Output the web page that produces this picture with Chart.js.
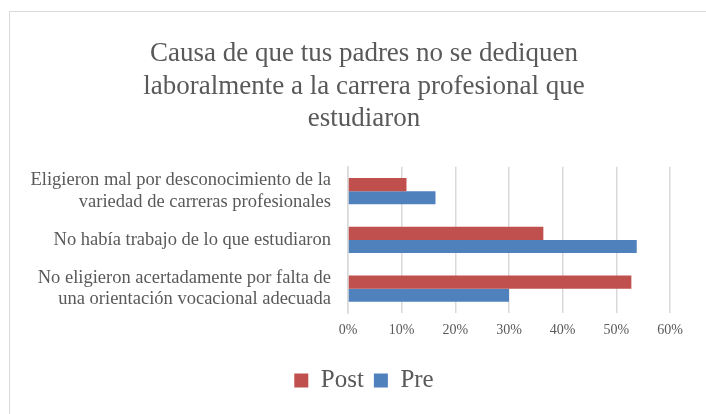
<!DOCTYPE html>
<html>
<head>
<meta charset="utf-8">
<script src="https://cdn.jsdelivr.net/npm/chart.js@4.4.0/dist/chart.umd.min.js"></script>
<style>
	html, body { margin: 0; padding: 0; background: #fff; overflow: hidden; }
	#frame { position: absolute; left: 9px; top: 11px; width: 697px; height: 403px;
		border-left: 1.5px solid #d9d9d9; border-top: 1.5px solid #d9d9d9; }
	#wrap { position: absolute; left: 0; top: 0; width: 718px; height: 414px; }
</style>
</head>
<body>
<div id="frame"></div>
<div id="wrap"><canvas id="bar_chart" width="718" height="414"></canvas></div>
<script>
(() => {
	const categories = [
		['Eligieron mal por desconocimiento de la', 'variedad de carreras profesionales'],
		['No había trabajo de lo que estudiaron'],
		['No eligieron acertadamente por falta de', 'una orientación vocacional adecuada']
	];
	const postValues = [10.9, 36.4, 52.8];
	const preValues = [16.3, 53.8, 30.0];
	const tickValues = [0, 10, 20, 30, 40, 50, 60];

	const TEXT = '#595959';
	const SERIF = "'Liberation Serif', 'Times New Roman', serif";

	const data = {
		labels: categories,
		datasets: [
			{ label: 'Post', data: postValues, backgroundColor: '#C0504D' },
			{ label: 'Pre', data: preValues, backgroundColor: '#4F81BD' }
		]
	};

	// canvas is a bit wider than the page and an empty right axis takes the space,
	// so the title and legend centre a little right of the plot like the original
	const config = {
		type: 'bar',
		data: data,
		options: {
			indexAxis: 'y',
			responsive: false,
			animation: false,
			datasets: { bar: { barPercentage: 1, categoryPercentage: 0.54 } },
			layout: { padding: { top: 11, left: 10, right: 0, bottom: 11 } },
			scales: {
				x: {
					min: 0, max: 60,
					afterBuildTicks: (s) => { s.ticks = tickValues.map(v => ({ value: v })); },
					afterFit: (s) => { s.height = 45; },
					grid: { color: '#d9d9d9', lineWidth: 1.5, drawTicks: false },
					border: { display: false },
					ticks: {
						padding: 9,
						color: TEXT,
						font: { family: SERIF, size: 14 },
						callback: (v) => v + '%'
					}
				},
				y: {
					afterFit: (s) => { s.width = 338; },
					grid: { display: false },
					border: { color: '#d9d9d9', width: 1.5 },
					ticks: {
						padding: 9,
						color: TEXT,
						font: { family: SERIF, size: 18.5, lineHeight: 1.15 }
					}
				},
				spacer: {
					type: 'category',
					axis: 'y',
					position: 'right',
					afterFit: (s) => { s.width = 48; },
					grid: { display: false },
					border: { display: false },
					ticks: { display: false }
				}
			},
			plugins: {
				title: {
					display: true,
					text: ['Causa de que tus padres no se dediquen', 'laboralmente a la carrera profesional que', 'estudiaron'],
					color: TEXT,
					font: { family: SERIF, size: 27, weight: 'normal', lineHeight: 1.22 },
					padding: { top: 26, bottom: 31 }
				},
				legend: {
					position: 'bottom',
					labels: {
						color: TEXT,
						font: { family: SERIF, size: 25 },
						boxWidth: 14,
						boxHeight: 14,
						padding: 10
					}
				},
				tooltip: { enabled: false }
			}
		}
	};

	var barChart = new Chart(document.getElementById('bar_chart'), config);
})();
</script>
</body>
</html>
